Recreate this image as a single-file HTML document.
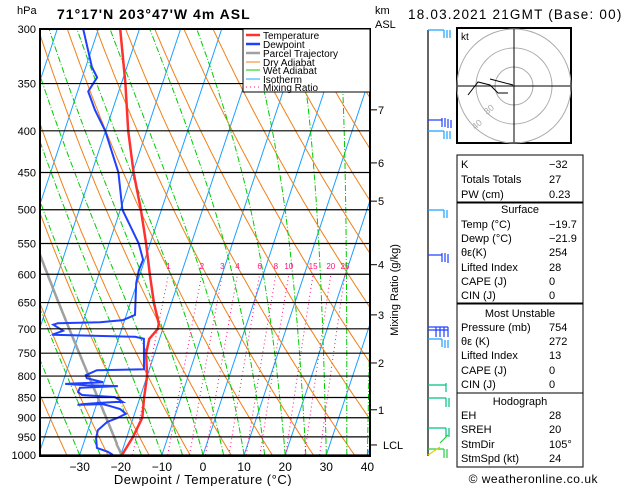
<!DOCTYPE html>
<html><head><meta charset="utf-8"><style>
body{margin:0;background:#fff;}
svg{display:block;font-family:"Liberation Sans",sans-serif;}
</style></head><body>
<svg id="c" width="629" height="486" viewBox="0 0 629 486" xmlns="http://www.w3.org/2000/svg">
<defs><clipPath id="pc"><rect x="40" y="29" width="330" height="427"/></clipPath></defs>
<g id="bg" clip-path="url(#pc)"></g>
<g id="prof" clip-path="url(#pc)"></g>
<g id="ax"></g>
</svg>
<script>
// ---- data ----
const tempP=[1000,950,900,850,800,750,720,700,690,650,600,550,500,450,400,350,300];
const tempT=[-19.7,-18.5,-17.8,-19,-20,-22.1,-22.5,-21.2,-21.4,-24.3,-27.6,-31,-35,-39.8,-44.5,-49,-54.7];
const dewP=[1000,991,980,953,932,911,901,890,878,871,866,868,866,863,861,861,849,844,837,827,823,821,818,814,805,798,787,785,720,716,712,704,692,689,687,683,673,615,593,576,550,500,450,400,377,358,344,334,300];
const dewT=[-21.9,-23.4,-26.4,-27.4,-27.6,-26,-23.9,-22.1,-23.9,-26.6,-28.5,-34.6,-33.3,-29.3,-25.7,-23.8,-26.1,-34.3,-35.5,-35.4,-26.3,-33.9,-39.3,-30.2,-34.5,-35,-32.7,-21.3,-23.8,-26.1,-46.5,-44.1,-47,-46,-35.8,-30.4,-27.9,-30.2,-30.6,-30.4,-32.8,-39.5,-43.5,-50.1,-54.3,-57.4,-56.4,-58.5,-63.7];
const pressureTicks=[300,350,400,450,500,550,600,650,700,750,800,850,900,950,1000];
const tempTicks=[-30,-20,-10,0,10,20,30,40];
const mixRatios=[1,2,3,4,6,8,10,15,20,25];
const kmLabels=["7","6","5","4","3","2","1","LCL"];
const kmP=[377,438,488,584,673,771,880,972];
const surfT=-19.7, lclP=968;

const NS="http://www.w3.org/2000/svg";
const L=Math.log(1000/300);
function yP(p){return 29+Math.log(p/300)/L*426;}
function xT(T,p){return 203+4.11*T+(455-yP(p))/3;}
function el(tag,attrs,parent,name){const e=document.createElementNS(NS,tag);for(const k in attrs)e.setAttribute(k,attrs[k]);


parent.appendChild(e);return e;}
function poly(pts,st,parent,name){return el('polyline',Object.assign({points:pts.map(a=>a[0].toFixed(1)+','+a[1].toFixed(1)).join(' '),fill:'none'},st),parent,name);}
const bg=document.getElementById('bg'),prof=document.getElementById('prof'),ax=document.getElementById('ax');
const plevs=[];for(let p=1000;p>=295;p-=5)plevs.push(p);
for(let T=-120;T<=40;T+=10){poly([[xT(T,1000),yP(1000)],[xT(T,300),yP(300)]],{stroke:'#1aa0ff','stroke-width':1},bg,'isotherm');}
for(let th=220;th<=480;th+=10){poly(plevs.map(p=>[xT(th*Math.pow(p/1000,0.2857)-273.15,p),yP(p)]),{stroke:'#f08018','stroke-width':1},bg,'dry-adiabat');}
function es(T){return 6.112*Math.exp(17.67*T/(T+243.5));}
function moist(T0,p0,p1){const pts=[];let T=T0+273.15;for(let p=p0;p>=p1;p-=5){pts.push([T-273.15,p]);const rs=0.622*es(T-273.15)/(p-es(T-273.15));const Lv=2.5e6,Rd=287,cp=1005;const d=(Rd*T+Lv*rs)/(cp+Lv*Lv*rs*0.622/(Rd*T*T))/p;T-=d*5;}return pts;}
for(let tw=-30;tw<=40;tw+=5){poly(moist(tw,1000,300).map(a=>[xT(a[0],a[1]),yP(a[1])]),{stroke:'#00cc00','stroke-width':1,'stroke-dasharray':'6,2,1,2'},bg,'wet-adiabat');}
mixRatios.forEach(w=>{const pts=[];for(let p=1000;p>=600;p-=10){const e=w*p/(622+w);const l=Math.log(e/6.112);pts.push([xT(243.5*l/(17.67-l),p),yP(p)]);}
poly(pts,{stroke:'#ff1080','stroke-width':1,'stroke-dasharray':'1,3'},bg,'mixing-ratio-line');
const t=el('text',{x:pts[pts.length-1][0].toFixed(1),y:269,'font-size':8,fill:'#ff1080','text-anchor':'middle'},ax,'mixing-ratio-label');t.textContent=w;});
const parc=[];for(let p=1000;p>=lclP;p-=5)parc.push([(surfT+273.15)*Math.pow(p/1000,0.2857)-273.15,p]);
const Tl=parc[parc.length-1][0];moist(Tl,lclP,300).forEach(a=>parc.push(a));
poly(parc.map(a=>[xT(a[0],a[1]),yP(a[1])]),{stroke:'#a0a0a0','stroke-width':2.5},prof,'parcel-trajectory');
poly(dewP.map((p,i)=>[xT(dewT[i],p),yP(p)]),{stroke:'#2040ff','stroke-width':2},prof,'dewpoint-line');
poly(tempP.map((p,i)=>[xT(tempT[i],p),yP(p)]),{stroke:'#ff3030','stroke-width':2.5},prof,'temperature-line');
pressureTicks.forEach(p=>{const y=yP(p);el('line',{x1:40,x2:370,y1:y,y2:y,stroke:'#000','stroke-width':1.2},ax,'pressure-gridline');
const t=el('text',{x:36,y:y+4,'font-size':11,'text-anchor':'end'},ax,'pressure-label');t.textContent=p;});
tempTicks.forEach(T=>{const t=el('text',{x:xT(T,1000),y:471,'font-size':12,'text-anchor':'middle'},ax,'temperature-tick-label');t.textContent=(T<0?'\u2212'+(-T):T);});
el('rect',{x:40,y:29,width:330,height:427,fill:'none',stroke:'#000','stroke-width':2},ax,'plot-frame');
kmLabels.forEach((k,i)=>{const y=yP(kmP[i]);el('line',{x1:370,x2:377,y1:y,y2:y,stroke:'#000'},ax,'km-tick');
const t=el('text',{x:k=='LCL'?383:378,y:y+4,'font-size':11},ax,'km-label');t.textContent=k;});
</script>
<svg style="position:absolute;left:0;top:0" width="629" height="486" xmlns="http://www.w3.org/2000/svg">
<g font-family="Liberation Sans, sans-serif">
<text x="17" y="14" font-size="11">hPa</text>
<text x="57" y="19" font-size="14" font-weight="bold" letter-spacing="1">71°17'N  203°47'W  4m  ASL</text>
<text x="375" y="14" font-size="11">km</text>
<text x="375" y="28" font-size="11">ASL</text>
<text x="408" y="19" font-size="13.5" letter-spacing="1.2">18.03.2021  21GMT  (Base: 00)</text>
<text x="203" y="484" font-size="13" letter-spacing="0.5" text-anchor="middle">Dewpoint / Temperature (°C)</text>
<text transform="translate(398,290) rotate(-90)" font-size="11" text-anchor="middle">Mixing Ratio (g/kg)</text>
<g font-size="10">
<rect x="243" y="29" width="127" height="63" fill="#fff" stroke="#000"/>
<line x1="246" x2="260" y1="35" y2="35" stroke="#ff3030" stroke-width="2.5"/><text x="263" y="39">Temperature</text>
<line x1="246" x2="260" y1="44" y2="44" stroke="#2040ff" stroke-width="2.5"/><text x="263" y="48">Dewpoint</text>
<line x1="246" x2="260" y1="53" y2="53" stroke="#a0a0a0" stroke-width="2.5"/><text x="263" y="57">Parcel Trajectory</text>
<line x1="246" x2="260" y1="62" y2="62" stroke="#f08018"/><text x="263" y="66">Dry Adiabat</text>
<line x1="246" x2="260" y1="70" y2="70" stroke="#00cc00"/><text x="263" y="74">Wet Adiabat</text>
<line x1="246" x2="260" y1="79" y2="79" stroke="#1aa0ff"/><text x="263" y="83">Isotherm</text>
<line x1="246" x2="260" y1="87" y2="87" stroke="#ff1080" stroke-dasharray="1,3"/><text x="263" y="91">Mixing Ratio</text>
</g>
<g stroke-width="1.2" fill="none">
<line x1="428" y1="30" x2="428" y2="456" stroke="#000"/>
<path d="M428 30h16M444 30v8M447 30v8M450 30v8" stroke="#1aa0ff"/>
<path d="M428 120h14M442 118v9M445 118v9M448 119v9M451 120v8" stroke="#2040ff"/>
<path d="M428 131h16M444 131v8M447 131v8M450 131v8" stroke="#1aa0ff"/>
<path d="M428 210h16M444 210v8M447 210v8" stroke="#1aa0ff"/>
<path d="M428 255h14M442 253v9M445 253v9M448 254v9" stroke="#2040ff"/>
<path d="M428 327h20M428 330h20M436 327v10M440 327v10M444 327v10M448 327v10" stroke="#2040ff"/>
<path d="M428 339h14M442 339v8M445 340v8M448 340v8" stroke="#1aa0ff"/>
<path d="M428 385h18M446 383v9" stroke="#00c080"/>
<path d="M428 398h18M446 398v9M449 398v9" stroke="#00c080"/>
<path d="M428 428h18M446 428v9M449 428v9" stroke="#00c080"/>
<path d="M428 449h16M444 449v9M447 449v9M440 443l8 -8" stroke="#20d040"/>
<path d="M428 455l12 -8" stroke="#e0d000"/>
</g>
<g>
<rect x="457" y="28" width="114" height="115" fill="#fff" stroke="#000" stroke-width="2"/>
<circle cx="514" cy="86" r="19" fill="none" stroke="#aaa"/><circle cx="514" cy="86" r="38" fill="none" stroke="#aaa"/><circle cx="514" cy="86" r="57" fill="none" stroke="#aaa"/>
<line x1="458" x2="570" y1="86" y2="86" stroke="#000"/><line x1="514" x2="514" y1="29" y2="142" stroke="#000"/>
<text x="461" y="40" font-size="10">kt</text>
<polyline points="508,93 498,93 490,85 478,82 468,95" fill="none" stroke="#000"/>
<polyline points="513,85 490,79" fill="none" stroke="#000"/>
<text x="475" y="130" font-size="9" fill="#aaa" transform="rotate(-40 475 130)">40</text>
<text x="487" y="115" font-size="9" fill="#aaa" transform="rotate(-40 487 115)">30</text>
</g>
<g font-size="11">
<rect x="457" y="155" width="126" height="48" fill="none" stroke="#000"/>
<text x="461" y="168">K</text><text x="549" y="168">−32</text>
<text x="461" y="183">Totals Totals</text><text x="549" y="183">27</text>
<text x="461" y="198">PW (cm)</text><text x="549" y="198">0.23</text>
<rect x="457" y="202" width="126" height="101" fill="none" stroke="#000"/>
<text x="520" y="213" text-anchor="middle">Surface</text>
<text x="461" y="228">Temp (°C)</text><text x="549" y="228">−19.7</text>
<text x="461" y="242">Dewp (°C)</text><text x="549" y="242">−21.9</text>
<text x="461" y="256">θε(K)</text><text x="549" y="256">254</text>
<text x="461" y="271">Lifted Index</text><text x="549" y="271">28</text>
<text x="461" y="285">CAPE (J)</text><text x="549" y="285">0</text>
<text x="461" y="299">CIN (J)</text><text x="549" y="299">0</text>
<rect x="457" y="304" width="126" height="89" fill="none" stroke="#000"/>
<text x="520" y="317" text-anchor="middle">Most Unstable</text>
<text x="461" y="331">Pressure (mb)</text><text x="549" y="331">754</text>
<text x="461" y="345">θε (K)</text><text x="549" y="345">272</text>
<text x="461" y="359">Lifted Index</text><text x="549" y="359">13</text>
<text x="461" y="374">CAPE (J)</text><text x="549" y="374">0</text>
<text x="461" y="388">CIN (J)</text><text x="549" y="388">0</text>
<rect x="457" y="393" width="126" height="74" fill="none" stroke="#000"/>
<text x="520" y="405" text-anchor="middle">Hodograph</text>
<text x="461" y="419">EH</text><text x="549" y="419">28</text>
<text x="461" y="433">SREH</text><text x="549" y="433">20</text>
<text x="461" y="448">StmDir</text><text x="549" y="448">105°</text>
<text x="461" y="462">StmSpd (kt)</text><text x="549" y="462">24</text>
</g>
<text x="598" y="483" font-size="12" letter-spacing="0.5" text-anchor="end">© weatheronline.co.uk</text>
</g>
</svg>
</body></html>
